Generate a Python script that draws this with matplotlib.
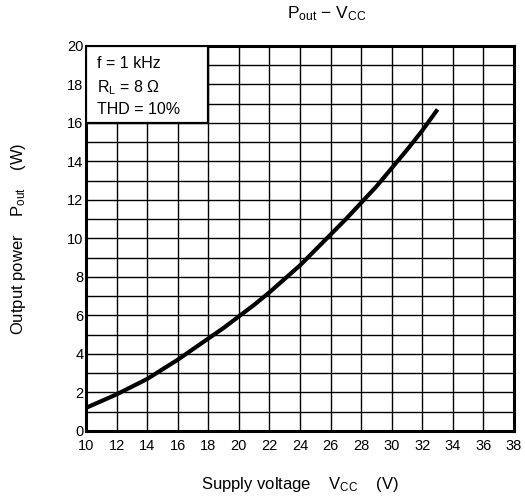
import matplotlib.pyplot as plt
from matplotlib.patches import Rectangle

plt.rcParams['font.family'] = 'Liberation Sans'
plt.rcParams['mathtext.fontset'] = 'custom'
plt.rcParams['mathtext.rm'] = 'Liberation Sans'
plt.rcParams['mathtext.it'] = 'Liberation Sans'

# supply voltage (V) and output power (W)
vcc = [10, 11, 12, 13, 14, 15, 16, 17, 18, 19, 20, 21, 22,
       23, 24, 25, 26, 27, 28, 29, 30, 31, 32, 33]
pout = [1.2, 1.55, 1.9, 2.3, 2.7, 3.2, 3.7, 4.25, 4.8, 5.35, 5.95, 6.55, 7.2,
        7.9, 8.6, 9.4, 10.2, 11.0, 11.85, 12.7, 13.65, 14.6, 15.6, 16.7]

x_ticks = list(range(10, 39, 2))
y_ticks = list(range(0, 21, 2))
conditions = ['f = 1 kHz', r'R$\mathregular{_L}$ = 8 $\Omega$', 'THD = 10%']

fig = plt.figure(figsize=(5.25, 5.04), dpi=100)
ax = fig.add_axes([0.164, 0.145, 0.815, 0.764])

ax.set_xlim(10, 38)
ax.set_ylim(0, 20)
ax.set_xticks(x_ticks)
ax.set_yticks(y_ticks)
ax.set_yticks(range(0, 21), minor=True)
ax.grid(which='major', color='black', lw=1.0)
ax.grid(which='minor', axis='y', color='black', lw=1.0)
ax.tick_params(which='both', length=0, labelsize=10.5)
ax.tick_params(axis='x', pad=6)
ax.tick_params(axis='y', pad=2)
for s in ax.spines.values():
    s.set_linewidth(2.2)

ax.plot(vcc, pout, color='black', lw=3, solid_capstyle='butt', zorder=5)

# condition box
ax.add_patch(Rectangle((10, 16), 8, 4, facecolor='white', edgecolor='black',
                       lw=1.6, zorder=6))
for y, t in zip([19.1, 17.85, 16.7], conditions):
    ax.text(10.7, y, t, fontsize=11.5, va='center', zorder=7)

fig.text(327 / 525, 1 - 14 / 504,
         r'P$\mathregular{_{out}}$ $-$ V$\mathregular{_{CC}}$',
         fontsize=12.5, ha='center', va='center')
ax.set_xlabel(r'Supply voltage    V$\mathregular{_{CC}}$    (V)', fontsize=12, labelpad=16)
ax.set_ylabel(r'Output power    P$\mathregular{_{out}}$    (W)', fontsize=12, labelpad=28)

fig.savefig('out.png', dpi=100)
